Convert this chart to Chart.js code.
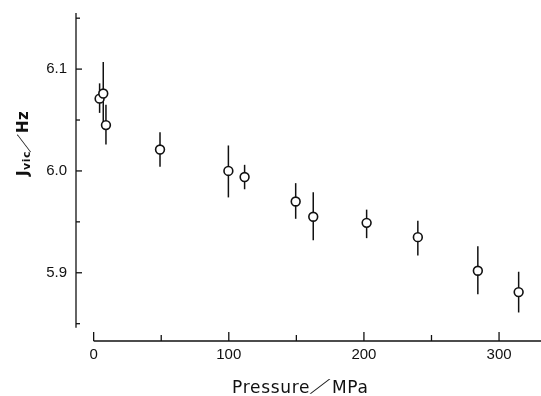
<!DOCTYPE html>
<html>
<head>
<meta charset="utf-8">
<script src="https://cdn.jsdelivr.net/npm/chart.js@4"></script>
<style>
  html, body { margin: 0; padding: 0; background: #fff; overflow: hidden; }
  canvas { display: block; }
</style>
</head>
<body>
<canvas id="jChart" width="541" height="396"></canvas>
<script>
// values (pressure in MPa, coupling constant in Hz)
const pressure = [4.4, 7.1, 9.1, 49.1, 99.7, 111.7, 149.5, 162.5, 202.0, 239.9, 284.3, 314.5];
const jvic     = [6.071, 6.076, 6.045, 6.021, 6.000, 5.994, 5.970, 5.955, 5.949, 5.935, 5.902, 5.881];
const errHigh  = [6.086, 6.107, 6.065, 6.038, 6.025, 6.006, 5.988, 5.979, 5.962, 5.951, 5.926, 5.901];
const errLow   = [6.057, 6.046, 6.026, 6.004, 5.974, 5.982, 5.953, 5.932, 5.934, 5.917, 5.879, 5.861];

const xTickLabels = ["0", "100", "200", "300"];
const yTickLabels = ["5.9", "6.0", "6.1"];

const ink = "#111";

// slash sheared to a shallow angle, like the long slash in the printed labels
function wideSlash(ctx, x, y, font) {
  ctx.save();
  ctx.font = font;
  ctx.translate(x, y);
  ctx.transform(1, 0, -1.0, 1, 0, 0);
  ctx.fillText("/", 0, 0);
  const w = ctx.measureText("/").width + 12;
  ctx.restore();
  return w;
}

// axes are drawn by hand so they can be offset like the printed figure
const paperAxes = {
  id: "paperAxes",
  beforeDatasetsDraw(chart) {
    const { ctx, scales: { x, y } } = chart;
    ctx.save();
    ctx.strokeStyle = ink;
    ctx.lineWidth = 1.5;
    pressure.forEach((p, i) => {
      const px = x.getPixelForValue(p);
      ctx.beginPath();
      ctx.moveTo(px, y.getPixelForValue(errLow[i]));
      ctx.lineTo(px, y.getPixelForValue(errHigh[i]));
      ctx.stroke();
    });

    // x axis, starting at 0
    const base = chart.chartArea.bottom;
    ctx.lineWidth = 1.3;
    ctx.beginPath();
    ctx.moveTo(x.getPixelForValue(0), base);
    ctx.lineTo(chart.width, base);
    ctx.stroke();
    x.ticks.forEach(t => {
      const px = x.getPixelForValue(t.value);
      const len = Math.round(t.value) % 100 === 0 ? 9 : 6;
      ctx.beginPath();
      ctx.moveTo(px, base);
      ctx.lineTo(px, base - len);
      ctx.stroke();
    });

    // y axis
    const left = chart.chartArea.left;
    ctx.beginPath();
    ctx.moveTo(left, y.getPixelForValue(6.155));
    ctx.lineTo(left, y.getPixelForValue(5.846));
    ctx.stroke();
    y.ticks.forEach(t => {
      const py = y.getPixelForValue(t.value);
      const major = Math.abs(t.value * 10 - Math.round(t.value * 10)) < 1e-6;
      ctx.beginPath();
      ctx.moveTo(left, py);
      ctx.lineTo(left + (major ? 6 : 4), py);
      ctx.stroke();
    });
    ctx.restore();
  },
  afterDraw(chart) {
    const { ctx } = chart;
    ctx.save();
    ctx.fillStyle = ink;
    ctx.textBaseline = "alphabetic";

    // x title: Pressure / MPa
    ctx.font = "17px 'DejaVu Sans'";
    ctx.letterSpacing = "0.7px";
    let xs = 232;
    ctx.fillText("Pressure", xs, 393);
    xs += ctx.measureText("Pressure").width + 1;
    xs += wideSlash(ctx, xs, 392, "18px 'DejaVu Sans'") + 2;
    ctx.font = "17px 'DejaVu Sans'";
    ctx.fillText("MPa", xs, 393);

    // y title: J_vic / Hz, rotated to read upwards
    ctx.translate(30, 176);
    ctx.rotate(-Math.PI / 2);
    ctx.letterSpacing = "0.5px";
    let ys = 0;
    ctx.font = "bold 15px 'DejaVu Sans'";
    ctx.fillText("J", ys, -2);
    ys += ctx.measureText("J").width;
    ctx.font = "bold 11px 'DejaVu Sans'";
    ctx.fillText("vic", ys, 0);
    ys += ctx.measureText("vic").width;
    ys += wideSlash(ctx, ys, -1, "16px 'DejaVu Sans'");
    ctx.font = "bold 15px 'DejaVu Sans'";
    ctx.fillText("Hz", ys, -2);
    ctx.restore();
  }
};

new Chart(document.getElementById("jChart"), {
  type: "scatter",
  data: {
    datasets: [{
      data: pressure.map((p, i) => ({ x: p, y: jvic[i] })),
      pointRadius: 4.4,
      pointBorderWidth: 1.6,
      pointBorderColor: ink,
      pointBackgroundColor: "#fff"
    }]
  },
  options: {
    responsive: false,
    animation: false,
    layout: { padding: { top: 8, right: 0, left: 0, bottom: 0 } },
    plugins: { legend: { display: false }, tooltip: { enabled: false } },
    scales: {
      x: {
        type: "linear",
        min: -13.07,
        max: 326.6,
        grid: { display: false, drawTicks: false },
        border: { display: false },
        afterFit(s) { s.height = 55; s.paddingLeft = 0; s.paddingRight = 0; },
        ticks: {
          stepSize: 50,
          includeBounds: false,
          maxRotation: 0,
          autoSkip: false,
          padding: 5,
          color: ink,
          font: { family: "'Liberation Sans'", size: 15 },
          callback: v => xTickLabels.includes(String(Math.round(v))) && Math.abs(v % 100) < 1e-6 ? String(Math.round(v)) : ""
        }
      },
      y: {
        type: "linear",
        min: 5.833,
        max: 6.16,
        grid: { display: false, drawTicks: false },
        border: { display: false },
        afterFit(s) { s.width = 76; s.paddingTop = 0; s.paddingBottom = 0; },
        ticks: {
          stepSize: 0.05,
          includeBounds: false,
          autoSkip: false,
          padding: 9,
          color: ink,
          font: { family: "'Liberation Sans'", size: 15 },
          callback: v => {
            if (Math.abs(v * 10 - Math.round(v * 10)) > 1e-6) return "";
            const s = v.toFixed(1);
            return yTickLabels.includes(s) ? s : "";
          }
        }
      }
    }
  },
  plugins: [paperAxes]
});
</script>
</body>
</html>
